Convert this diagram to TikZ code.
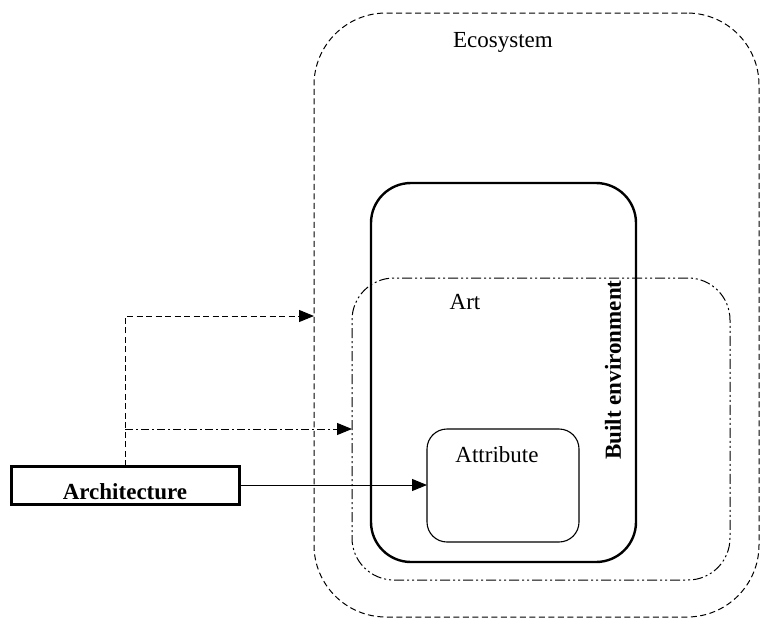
\documentclass[tikz,border=0pt]{standalone}
\usepackage{fontspec}
\setmainfont{Liberation Serif}
\usetikzlibrary{arrows.meta}
\begin{document}
\begin{tikzpicture}[x=1pt,y=-1pt,
  box/.style={draw=black,rectangle,inner sep=0pt,outer sep=0pt},
  lbl/.style={inner sep=0pt,font=\fontsize{23}{27}\selectfont},
  tri/.style={-{Triangle[length=15pt,width=12pt]}},
  ecodash/.style={dash pattern=on 6pt off 3.5pt},
  bedash/.style={dash pattern=on 10pt off 3pt on 2pt off 3pt on 2pt off 3pt},
  arrdash/.style={dash pattern=on 8pt off 3pt on 2pt off 3pt}
]
\useasboundingbox (0,0) rectangle (761,619);
% Ecosystem
\node[box,ecodash,line width=1pt,rounded corners=72pt,minimum width=445pt,minimum height=604pt] (eco) at (536.5,315) {};
% Built environment
\node[box,bedash,line width=1pt,rounded corners=42pt,minimum width=378pt,minimum height=302pt] (built) at (541,429) {};
% Art
\node[box,line width=2.4pt,rounded corners=40pt,minimum width=265pt,minimum height=379pt] (art) at (503.5,372.5) {};
% Attribute
\node[box,line width=1.1pt,rounded corners=20pt,minimum width=152pt,minimum height=113pt] (attr) at (503,485.5) {};
% Architecture
\node[box,line width=3pt,minimum width=228pt,minimum height=38pt] (arch) at (125,485) {};
% labels
\node[lbl] (ecot) at (503,42) {Ecosystem};
\node[lbl] (artt) at (465,302) {Art};
\node[lbl] (attrt) at (497,455) {Attribute};
\node[lbl,font=\fontsize{23}{27}\selectfont\bfseries,rotate=90] (bet) at (613,370) {Built environment};
\node[lbl,font=\fontsize{23}{27}\selectfont\bfseries] (archt) at (125,492) {Architecture};
% connectors
\coordinate (split) at (125,429);
\coordinate (up) at (125,316);
\draw[ecodash,line width=1pt,tri] (arch.north) -- (up) -- (eco.west |- up);
\draw[arrdash,line width=1pt,tri] (split) -- (built.west |- split);
\draw[line width=1pt,tri] (arch.east) -- (attr.west |- arch.east);
\end{tikzpicture}
\end{document}
